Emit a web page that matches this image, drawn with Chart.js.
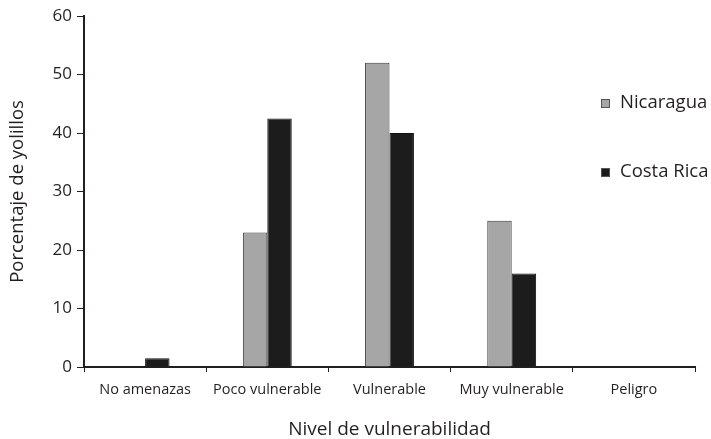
<!DOCTYPE html>
<html>
<head>
<meta charset="utf-8">
<script src="https://cdn.jsdelivr.net/npm/chart.js@4.4.1/dist/chart.umd.min.js"></script>
<style>
  html, body { margin: 0; padding: 0; background: #fff; }
  #wrap { width: 711px; height: 439px; position: relative; }
</style>
</head>
<body>
<div id="wrap"><canvas id="myChart"></canvas></div>
<script>
const categories = ["No amenazas", "Poco vulnerable", "Vulnerable", "Muy vulnerable", "Peligro"];
const nicaragua = [0, 23, 52, 25, 0];
const costaRica = [1.5, 42.5, 40, 16, 0];
const yTicks = [0, 10, 20, 30, 40, 50, 60];

const font = "'Open Sans', 'Noto Sans', sans-serif";
const ink = "#231f20";

// legend is drawn inside the plot, on the right, like the original
const sideLegend = {
  id: "sideLegend",
  afterDraw(chart) {
    const ctx = chart.ctx;
    const ys = [103, 172];
    ctx.save();
    ctx.font = "18.5px " + font;
    ctx.textBaseline = "middle";
    chart.data.datasets.forEach((ds, i) => {
      ctx.fillStyle = ds.backgroundColor;
      ctx.strokeStyle = "#555";
      ctx.lineWidth = 1;
      ctx.fillRect(601, ys[i] - 4, 9, 9);
      ctx.strokeRect(601.5, ys[i] - 3.5, 8, 8);
      ctx.fillStyle = ink;
      ctx.fillText(ds.label, 620, ys[i]);
    });
    ctx.restore();
  },
};

const config = {
  type: "bar",
  data: {
    labels: categories,
    datasets: [
      {
        label: "Nicaragua",
        data: nicaragua,
        backgroundColor: "#a6a6a6",
        borderColor: "#3a3a3a",
        borderWidth: 1,
      },
      {
        label: "Costa Rica",
        data: costaRica,
        backgroundColor: "#1c1c1c",
        borderColor: "#111",
        borderWidth: 1,
      },
    ],
  },
  options: {
    responsive: true,
    maintainAspectRatio: false,
    animation: false,
    layout: { padding: { left: 0, right: 16, top: 16, bottom: 0 } },
    datasets: { bar: { categoryPercentage: 0.4, barPercentage: 1.0 } },
    plugins: { legend: { display: false }, tooltip: { enabled: false } },
    scales: {
      x: {
        grid: { display: true, drawOnChartArea: false, drawTicks: true, tickLength: 5, color: ink, lineWidth: 1 },
        border: { display: true, color: ink, width: 2 },
        ticks: { color: ink, font: { family: font, size: 14.5 }, padding: 9, maxRotation: 0, autoSkip: false },
        title: { display: true, text: "Nivel de vulnerabilidad", color: ink, font: { family: font, size: 19, lineHeight: 1 }, padding: { top: 0, bottom: 0 } },
        afterFit(scale) { scale.height = 72; },
      },
      y: {
        min: 0,
        max: 60,
        afterBuildTicks(scale) { scale.ticks = yTicks.map((v) => ({ value: v })); },
        grid: { display: true, drawOnChartArea: false, drawTicks: true, tickLength: 7, color: ink, lineWidth: 1 },
        border: { display: true, color: ink, width: 2 },
        ticks: { color: ink, font: { family: font, size: 17 }, padding: 5 },
        title: { display: true, text: "Porcentaje de yolillos", color: ink, font: { family: font, size: 18.5, lineHeight: 1 }, padding: { top: 8, bottom: 0 } },
        afterFit(scale) { scale.width = 84; },
      },
    },
  },
  plugins: [sideLegend],
};

const myChart = new Chart(document.getElementById("myChart"), config);
</script>
</body>
</html>
